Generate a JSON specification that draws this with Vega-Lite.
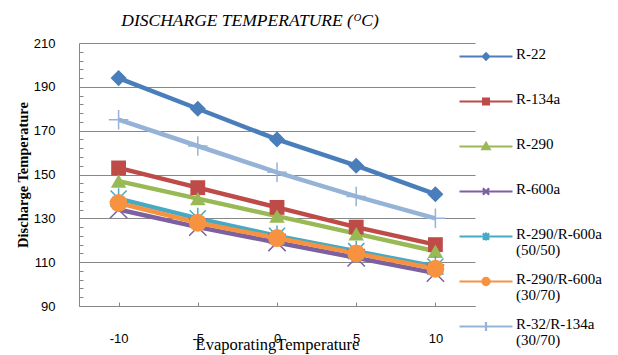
{
  "$schema": "https://vega.github.io/schema/vega-lite/v6.json",
  "width": 396,
  "height": 263,
  "autosize": "none",
  "padding": {"left": 79, "top": 43, "right": 143, "bottom": 49},
  "background": "white",
  "title": {"text": "DISCHARGE TEMPERATURE (ᴼC)", "font": "Liberation Serif", "fontStyle": "italic", "fontWeight": "normal", "fontSize": 17.5, "color": "#000000", "anchor": "middle", "dx": -27, "offset": 3},
  "config": {"view": {"stroke": null}},
  "data": {"values": [
    {"series": "R-22", "evap": -10, "temp": 194},
    {"series": "R-22", "evap": -5, "temp": 180},
    {"series": "R-22", "evap": 0, "temp": 166},
    {"series": "R-22", "evap": 5, "temp": 154},
    {"series": "R-22", "evap": 10, "temp": 141},
    {"series": "R-134a", "evap": -10, "temp": 153},
    {"series": "R-134a", "evap": -5, "temp": 144},
    {"series": "R-134a", "evap": 0, "temp": 135},
    {"series": "R-134a", "evap": 5, "temp": 126},
    {"series": "R-134a", "evap": 10, "temp": 118},
    {"series": "R-290", "evap": -10, "temp": 147},
    {"series": "R-290", "evap": -5, "temp": 139},
    {"series": "R-290", "evap": 0, "temp": 131},
    {"series": "R-290", "evap": 5, "temp": 123},
    {"series": "R-290", "evap": 10, "temp": 115},
    {"series": "R-600a", "evap": -10, "temp": 134},
    {"series": "R-600a", "evap": -5, "temp": 126},
    {"series": "R-600a", "evap": 0, "temp": 119},
    {"series": "R-600a", "evap": 5, "temp": 112},
    {"series": "R-600a", "evap": 10, "temp": 105},
    {"series": "R-290/R-600a (50/50)", "evap": -10, "temp": 139},
    {"series": "R-290/R-600a (50/50)", "evap": -5, "temp": 130},
    {"series": "R-290/R-600a (50/50)", "evap": 0, "temp": 122},
    {"series": "R-290/R-600a (50/50)", "evap": 5, "temp": 115},
    {"series": "R-290/R-600a (50/50)", "evap": 10, "temp": 108},
    {"series": "R-290/R-600a (30/70)", "evap": -10, "temp": 137},
    {"series": "R-290/R-600a (30/70)", "evap": -5, "temp": 128},
    {"series": "R-290/R-600a (30/70)", "evap": 0, "temp": 121},
    {"series": "R-290/R-600a (30/70)", "evap": 5, "temp": 114},
    {"series": "R-290/R-600a (30/70)", "evap": 10, "temp": 107},
    {"series": "R-32/R-134a (30/70)", "evap": -10, "temp": 175},
    {"series": "R-32/R-134a (30/70)", "evap": -5, "temp": 163},
    {"series": "R-32/R-134a (30/70)", "evap": 0, "temp": 151},
    {"series": "R-32/R-134a (30/70)", "evap": 5, "temp": 140},
    {"series": "R-32/R-134a (30/70)", "evap": 10, "temp": 130}
  ]},
  "encoding": {
    "x": {"field": "evap", "type": "ordinal", "sort": "ascending",
      "axis": {"title": "EvaporatingTemperature", "titleFont": "Liberation Serif", "titleFontSize": 16.5, "titleFontWeight": "normal", "titleColor": "#000000", "titleY": 43, "titleBaseline": "alphabetic",
        "labelAngle": 0, "labelFont": "Liberation Sans", "labelFontSize": 13, "labelColor": "#000000", "labelPadding": 30,
        "domainColor": "#878787", "tickColor": "#878787", "tickSize": -4, "grid": false}},
    "color": {"field": "series", "type": "nominal",
      "scale": {"domain": ["R-22", "R-134a", "R-290", "R-600a", "R-290/R-600a (50/50)", "R-290/R-600a (30/70)", "R-32/R-134a (30/70)"],
        "range": ["#4A7EBB", "#BE4B48", "#98B954", "#7D60A0", "#46AAC5", "#F69240", "#95B3D7"]},
      "legend": {"orient": "none", "legendX": 379, "legendY": -10.5, "title": null, "padding": 0, "rowPadding": -21,
        "symbolSize": 2025, "labelOffset": 10, "labelFont": "Liberation Serif", "labelFontSize": 15, "labelColor": "#000000", "labelLimit": 0,
        "labelExpr": "indexof(datum.label, ' (') > 0 ? [slice(datum.label, 0, indexof(datum.label, ' (')), slice(datum.label, indexof(datum.label, ' (') + 1)] : [datum.label, ' ']",
        "encode": {
          "symbols": {"update": {
            "shape": {"signal": "datum.value === 'R-22' ? 'M-1,0H1.356M0.178,-0.14L0.318,0L0.178,0.14L0.038,0Z' : datum.value === 'R-134a' ? 'M-1,0H1.356M0.048,-0.13H0.308V0.13H0.048Z' : datum.value === 'R-290' ? 'M-1,0H1.356M0.178,-0.16L0.338,0.12H0.018Z' : datum.value === 'R-600a' ? 'M-1,0H1.356M0.038,-0.14L0.318,0.14M0.038,0.14L0.318,-0.14' : datum.value === 'R-290/R-600a (50/50)' ? 'M-1,0H1.356M0.038,-0.14L0.318,0.14M0.038,0.14L0.318,-0.14M0.178,-0.18V0.18' : datum.value === 'R-290/R-600a (30/70)' ? 'M-1,0H1.356M0.018,0A0.16,0.16 0 1,0 0.338,0A0.16,0.16 0 1,0 0.018,0Z' : 'M-1,0H1.356M0.178,-0.2V0.2'"},
            "fill": {"signal": "scale('color', datum.value)"},
            "stroke": {"signal": "scale('color', datum.value)"},
            "fillOpacity": {"value": 1},
            "strokeOpacity": {"value": 1},
            "strokeWidth": {"value": 2.2},
            "size": {"value": 2025}
          }},
          "labels": {"update": {
            "lineHeight": {"value": 16},
            "dy": {"value": -3}
          }}
        }}
    }
  },
  "layer": [
    {
      "mark": {"type": "line", "strokeWidth": 4.5},
      "encoding": {
        "y": {"field": "temp", "type": "quantitative", "scale": {"domain": [90, 210], "nice": false, "zero": false},
          "axis": {"title": "Discharge Temperature", "titleFont": "Liberation Serif", "titleFontSize": 14.5, "titleFontWeight": "bold", "titleColor": "#000000", "titlePadding": 3,
            "values": [90, 110, 130, 150, 170, 190, 210], "labelFont": "Liberation Sans", "labelFontSize": 13, "labelColor": "#000000", "labelPadding": 24,
            "ticks": false, "domainColor": "#878787", "grid": true, "gridColor": "#878787", "gridWidth": 1, "gridOpacity": 1}}
      }
    },
    {
      "transform": [{"filter": {"field": "series", "equal": "R-22"}}],
      "mark": {"type": "point", "shape": "diamond", "size": 260, "filled": true, "opacity": 1, "strokeWidth": 0},
      "encoding": {"y": {"field": "temp", "type": "quantitative", "axis": null}}
    },
    {
      "transform": [{"filter": {"field": "series", "equal": "R-134a"}}],
      "mark": {"type": "point", "shape": "square", "size": 220, "filled": true, "opacity": 1, "strokeWidth": 0},
      "encoding": {"y": {"field": "temp", "type": "quantitative", "axis": null}}
    },
    {
      "transform": [{"filter": {"field": "series", "equal": "R-290"}}],
      "mark": {"type": "point", "shape": "triangle-up", "size": 240, "filled": true, "opacity": 1, "strokeWidth": 0},
      "encoding": {"y": {"field": "temp", "type": "quantitative", "axis": null}}
    },
    {
      "transform": [{"filter": {"field": "series", "equal": "R-600a"}}],
      "mark": {"type": "point", "shape": "M-1,-1L1,1M-1,1L1,-1", "size": 300, "filled": false, "opacity": 1, "strokeWidth": 1.5},
      "encoding": {"y": {"field": "temp", "type": "quantitative", "axis": null}}
    },
    {
      "transform": [{"filter": {"field": "series", "equal": "R-290/R-600a (50/50)"}}],
      "mark": {"type": "point", "shape": "M-1,-1L1,1M-1,1L1,-1M0,-1.3V1.3", "size": 260, "filled": false, "opacity": 1, "strokeWidth": 1.5},
      "encoding": {"y": {"field": "temp", "type": "quantitative", "axis": null}}
    },
    {
      "transform": [{"filter": {"field": "series", "equal": "R-290/R-600a (30/70)"}}],
      "mark": {"type": "point", "shape": "circle", "size": 320, "filled": true, "opacity": 1, "strokeWidth": 0},
      "encoding": {"y": {"field": "temp", "type": "quantitative", "axis": null}}
    },
    {
      "transform": [{"filter": {"field": "series", "equal": "R-32/R-134a (30/70)"}}],
      "mark": {"type": "point", "shape": "M0,-1V1M-1,0H1", "size": 380, "filled": false, "opacity": 1, "strokeWidth": 1.5},
      "encoding": {
        "y": {"field": "temp", "type": "quantitative",
          "axis": {"orient": "left", "values": [94, 98, 102, 106, 114, 118, 122, 126, 134, 138, 142, 146, 154, 158, 162, 166, 174, 178, 182, 186, 194, 198, 202, 206], "labels": false, "title": null, "domain": false, "grid": false, "ticks": true, "tickSize": -4, "tickColor": "#878787"}}
      }
    }
  ],
  "resolve": {"axis": {"y": "independent"}}
}
